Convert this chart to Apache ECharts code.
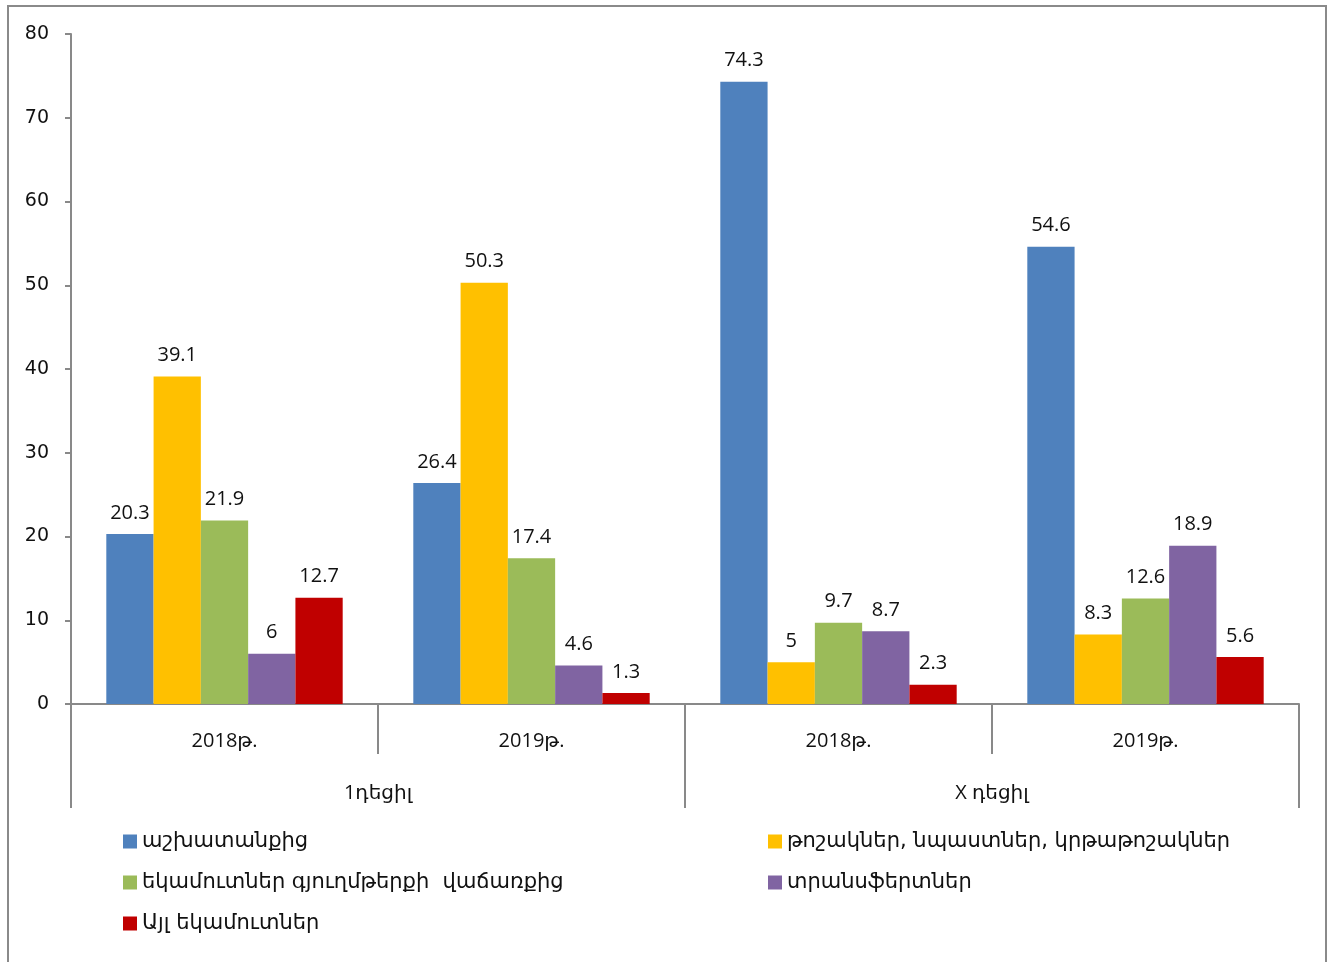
<!DOCTYPE html>
<html><head><meta charset="utf-8">
<script src="https://cdn.jsdelivr.net/npm/echarts@6/dist/echarts.min.js"></script>
<style>html,body{margin:0;padding:0;background:#fff;}#c{width:1328px;height:962px;}</style>
</head><body><div id="c"></div>
<script>
const years = ['2018թ.', '2019թ.', '2018թ.', '2019թ.'];
const groups = ['1դեցիլ', 'X դեցիլ'];
const seriesNames = ['աշխատանքից', 'թոշակներ, նպաստներ, կրթաթոշակներ', 'եկամուտներ գյուղմթերքի  վաճառքից', 'տրանսֆերտներ', 'Այլ եկամուտներ'];
const colors = ['#4F81BD', '#FFC000', '#9BBB59', '#8064A2', '#C00000'];
const wages = [20.3, 26.4, 74.3, 54.6];
const pensions = [39.1, 50.3, 5, 8.3];
const agri = [21.9, 17.4, 9.7, 12.6];
const transfers = [6, 4.6, 8.7, 18.9];
const other = [12.7, 1.3, 2.3, 5.6];
const values = [wages, pensions, agri, transfers, other];
const yTicks = [0, 10, 20, 30, 40, 50, 60, 70, 80];

const numFont = '"Open Sans", "DejaVu Sans", sans-serif';
const armFont = '"Open Sans", "DejaVu Sans", sans-serif';
const legFont = '"DejaVu Sans", sans-serif';
const axisColor = '#898989';

const chart = echarts.init(document.getElementById('c'));
chart.setOption({
  animation: false,
  backgroundColor: '#fff',
  graphic: [{
    type: 'rect', shape: {x: 8, y: 6, width: 1318, height: 1000},
    style: {fill: 'none', stroke: '#8a8a8a', lineWidth: 2}, silent: true, z: -1
  }],
  grid: {left: 71, right: 29, top: 34, bottom: 258, containLabel: false},
  legend: [
    {data: [seriesNames[0], seriesNames[2], seriesNames[4]], orient: 'vertical', left: 118, top: 826,
     itemWidth: 14, itemHeight: 14, itemGap: 20, icon: 'rect',
     textStyle: {fontFamily: legFont, fontSize: 21, color: '#111'}},
    {data: [seriesNames[1], seriesNames[3]], orient: 'vertical', left: 763, top: 826,
     itemWidth: 14, itemHeight: 14, itemGap: 20, icon: 'rect',
     textStyle: {fontFamily: legFont, fontSize: 21, color: '#111'}}
  ],
  xAxis: [
    {type: 'category', data: years, position: 'bottom',
     axisLine: {lineStyle: {color: axisColor, width: 2}},
     axisTick: {show: true, length: 50, inside: false, interval: 0, lineStyle: {color: axisColor, width: 2}},
     axisLabel: {margin: 27, fontFamily: armFont, fontSize: 20, color: '#111', interval: 0}},
    {type: 'category', data: groups, position: 'bottom', gridIndex: 0,
     axisLine: {show: false},
     axisTick: {show: true, length: 104, interval: 0, lineStyle: {color: axisColor, width: 2}},
     axisLabel: {margin: 79, fontFamily: armFont, fontSize: 20, color: '#111', interval: 0}}
  ],
  yAxis: {
    type: 'value', min: yTicks[0], max: yTicks[yTicks.length - 1], interval: 10,
    axisLine: {show: true, lineStyle: {color: axisColor, width: 2}},
    axisTick: {show: true, length: 6, lineStyle: {color: axisColor, width: 2}},
    splitLine: {show: false},
    axisLabel: {margin: 22, fontFamily: '"DejaVu Sans", sans-serif', fontSize: 19, color: '#111'}
  },
  series: values.map((v, i) => ({
    name: seriesNames[i], type: 'bar', data: v, xAxisIndex: 0,
    barGap: '0%', barCategoryGap: '23%',
    itemStyle: {color: colors[i]},
    label: {show: true, position: 'top', distance: 11, fontFamily: numFont, fontSize: 20, color: '#111'}
  }))
});
</script></body></html>
